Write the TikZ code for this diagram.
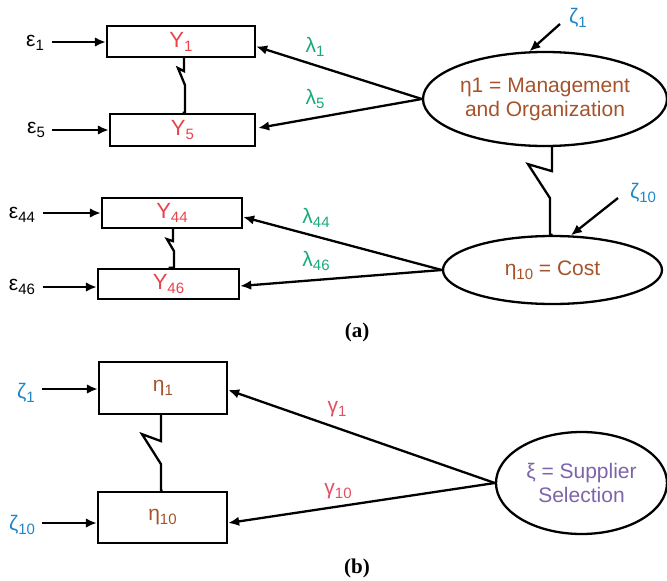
\documentclass[tikz,border=0pt]{standalone}
\usepackage{fontspec}
\setmainfont{Liberation Sans}
\newfontfamily\serifb{Liberation Serif}
\usetikzlibrary{arrows.meta,shapes.geometric,calc}
\definecolor{cred}{HTML}{E8434B}
\definecolor{cgreen}{HTML}{1AAA78}
\definecolor{cbrown}{HTML}{A5532B}
\definecolor{cblue}{HTML}{1F86C8}
\definecolor{cpurple}{HTML}{7D64AA}
\definecolor{cgam}{HTML}{E05060}
\newcommand\subs[1]{\raisebox{-4pt}{\fontsize{15}{15}\selectfont #1}}
\begin{document}
\begin{tikzpicture}[x=1pt,y=-1pt,
  obsbox/.style={draw, line width=2.3pt, inner sep=0pt, font=\fontsize{22}{24}\selectfont},
  lat/.style={draw, ellipse, line width=2.3pt, inner sep=0pt, align=center, font=\fontsize{21}{24}\selectfont},
  arr/.style={-{Latex[length=11pt,width=9.5pt]}, line width=2.3pt},
  zig/.style={line width=2.3pt, line join=miter},
  lbl/.style={inner sep=0pt, font=\fontsize{21}{24}\selectfont},
  capt/.style={inner sep=0pt, font=\serifb\bfseries\fontsize{21}{24}\selectfont}
]
\useasboundingbox (0,0) rectangle (667,581);

% ---------- (a) ----------
\node[obsbox, minimum width=148pt, minimum height=31pt, text=cred] (Y1) at (181,41.5) {Y\subs{1}};
\node[obsbox, minimum width=145pt, minimum height=32pt, text=cred] (Y5) at (182.5,130) {Y\subs{5}};
\node[obsbox, minimum width=140pt, minimum height=30pt, text=cred] (Y44) at (172,213) {Y\subs{44}};
\node[obsbox, minimum width=141pt, minimum height=30pt, text=cred] (Y46) at (168.5,284) {Y\subs{46}};

\node[lat, minimum width=244pt, minimum height=94pt, text=cbrown] (E1) at (545,99) {η1 = Management\\and Organization};
\node[lat, minimum width=219pt, minimum height=68pt, text=cbrown] (E10) at (552.5,270) {η\subs{10} = Cost};

\node[lbl] (e1) at (35,43) {ε\subs{1}};
\node[lbl] (e5) at (36,130) {ε\subs{5}};
\node[lbl] (e44) at (22,215) {ε\subs{44}};
\node[lbl] (e46) at (22,287) {ε\subs{46}};
\coordinate (e1s) at (52,42);
\coordinate (e5s) at (52,130);
\coordinate (e44s) at (43,213);
\coordinate (e46s) at (43,287);
\draw[arr] (e1s) -- (e1s -| Y1.west);
\draw[arr] (e5s) -- (e5s -| Y5.west);
\draw[arr] (e44s) -- (e44s -| Y44.west);
\draw[arr] (e46s) -- (e46s -| Y46.west);

\node[lbl, text=cgreen] (l1) at (315,47) {λ\subs{1}};
\node[lbl, text=cgreen] (l5) at (315,99) {λ\subs{5}};
\node[lbl, text=cgreen] (l44) at (316,218) {λ\subs{44}};
\node[lbl, text=cgreen] (l46) at (316,261) {λ\subs{46}};

\draw[arr] (E1.west) -- ($(Y1.east)+(0,5)$);
\draw[arr] (E1.west) -- ($(Y5.east)+(2,-2)$);
\draw[arr] (E10.west) -- ($(Y44.east)+(0,4)$);
\draw[arr] (E10.west) -- ($(Y46.east)+(0,2)$);

\node[lbl, text=cblue] (z1) at (578,18) {ζ\subs{1}};
\node[lbl, text=cblue] (z10) at (643,193) {ζ\subs{10}};
\coordinate (z1s) at (560,24);
\coordinate (z10s) at (618,198);
\draw[arr] (z1s) -- (E1.108);
\draw[arr] (z10s) -- (E10.62);

\draw[zig] ($(Y1.south)+(3,0)$) -- ++(0,13) -- ++(-6,-3) -- ++(7,17) |- (Y5.north);
\draw[zig] ($(Y44.south)+(1,0)$) -- ++(0,12) -- ++(-6,-2) -- ++(7,12) |- (Y46.north);
\draw[zig] ($(E1.south)+(7,0)$) -- ++(0,24) -- ++(-24,-7) -- ++(22,34) |- (E10.north);

\node[capt] (capa) at (357,332) {(a)};

% ---------- (b) ----------
\node[obsbox, minimum width=128pt, minimum height=52pt, text=cbrown, font=\fontsize{21}{24}\selectfont] (H1) at (163,388) {η\subs{1}};
\node[obsbox, minimum width=129pt, minimum height=51pt, text=cbrown, font=\fontsize{21}{24}\selectfont] (H10) at (162.5,517.5) {η\subs{10}};
\node[lat, minimum width=171pt, minimum height=102pt, text=cpurple] (Xi) at (581.5,483) {ξ = Supplier\\Selection};

\node[lbl, text=cblue] (zb1) at (26,393) {ζ\subs{1}};
\node[lbl, text=cblue] (zb10) at (22,525) {ζ\subs{10}};
\coordinate (zb1s) at (42,389);
\coordinate (zb10s) at (42,523);
\draw[arr] (zb1s) -- (zb1s -| H1.west);
\draw[arr] (zb10s) -- (zb10s -| H10.west);

\node[lbl, text=cgam] (g1) at (337,409) {γ\subs{1}};
\node[lbl, text=cgam] (g10) at (338,491) {γ\subs{10}};
\draw[arr] (Xi.west) -- ($(H1.east)+(0,2)$);
\draw[arr] (Xi.west) -- ($(H10.east)+(0,5.5)$);

\draw[zig] ($(H1.south)+(-2,0)$) -- ++(0,26) -- ++(-19,-7) -- ++(19,30) |- (H10.north);

\node[capt] (capb) at (357,568) {(b)};
\end{tikzpicture}
\end{document}
